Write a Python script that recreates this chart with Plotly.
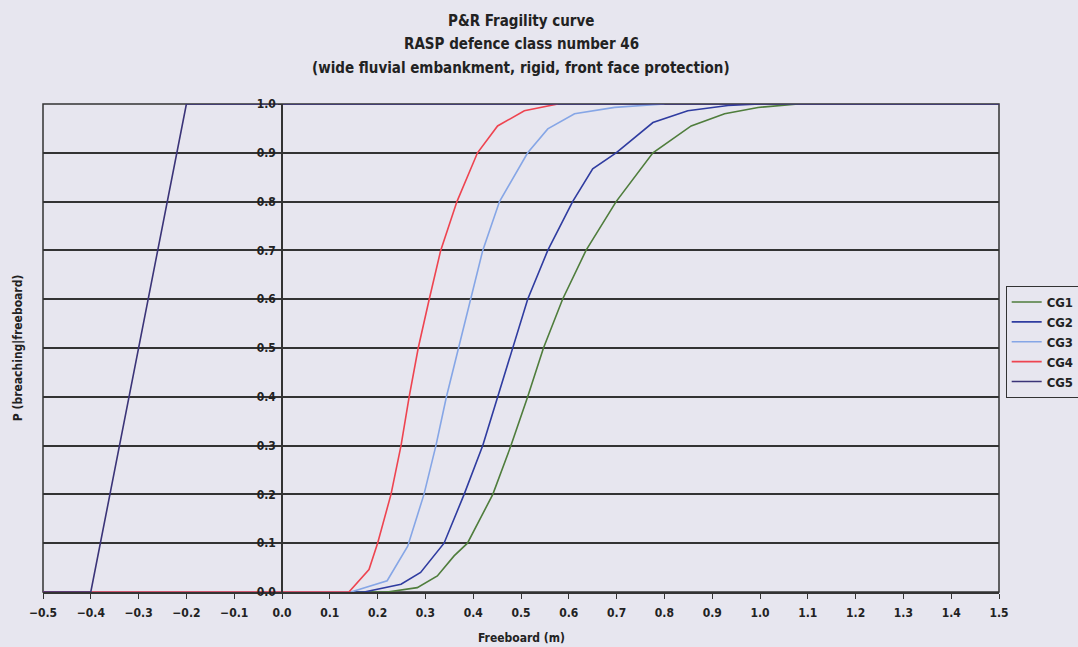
import plotly.graph_objects as go

# ---- data ----
series_names = ["CG1", "CG2", "CG3", "CG4", "CG5"]
series_colors = ["#4F7D3C", "#2F3CA0", "#86A6E6", "#EE4450", "#3B3478"]

cg1_x = [-0.5, 0.22, 0.283, 0.325, 0.36, 0.388, 0.441, 0.479, 0.514, 0.547, 0.587, 0.636, 0.699, 0.776, 0.856, 0.926, 0.996, 1.08]
cg1_y = [0.0, 0.0, 0.009, 0.033, 0.074, 0.10, 0.20, 0.30, 0.40, 0.50, 0.60, 0.70, 0.80, 0.90, 0.955, 0.980, 0.993, 1.0]

cg2_x = [-0.5, 0.172, 0.249, 0.29, 0.339, 0.381, 0.42, 0.451, 0.483, 0.514, 0.556, 0.608, 0.650, 0.699, 0.776, 0.849, 0.933, 1.0]
cg2_y = [0.0, 0.0, 0.016, 0.04, 0.10, 0.20, 0.30, 0.40, 0.50, 0.60, 0.70, 0.80, 0.867, 0.90, 0.962, 0.986, 0.997, 1.0]

cg3_x = [-0.5, 0.144, 0.22, 0.263, 0.297, 0.322, 0.344, 0.369, 0.394, 0.420, 0.455, 0.514, 0.556, 0.612, 0.696, 0.80]
cg3_y = [0.0, 0.0, 0.023, 0.094, 0.20, 0.30, 0.40, 0.50, 0.60, 0.70, 0.80, 0.90, 0.949, 0.980, 0.993, 1.0]

cg4_x = [-0.5, 0.14, 0.182, 0.2, 0.228, 0.249, 0.266, 0.285, 0.308, 0.332, 0.366, 0.409, 0.451, 0.507, 0.577]
cg4_y = [0.0, 0.0, 0.046, 0.10, 0.20, 0.30, 0.40, 0.50, 0.60, 0.70, 0.80, 0.90, 0.955, 0.986, 1.0]

cg5_x = [-0.5, -0.4, -0.2, 1.5]
cg5_y = [0.0, 0.0, 1.0, 1.0]

title_lines = ["P&R Fragility curve", "RASP defence class number 46",
               "(wide fluvial embankment, rigid, front face protection)"]
x_title = "Freeboard (m)"
y_title = "P (breaching|freeboard)"

FONT = "DejaVu Sans Condensed, Liberation Sans Narrow, Arial Narrow, sans-serif"
BG = "#E7E6EF"
INK = "#222222"
LINE = "#333333"

xs = [cg1_x, cg2_x, cg3_x, cg4_x, cg5_x]
ys = [cg1_y, cg2_y, cg3_y, cg4_y, cg5_y]

fig = go.Figure()
for name, color, x, y in zip(series_names, series_colors, xs, ys):
    fig.add_trace(go.Scatter(x=x, y=y, mode="lines", name=name,
                             line=dict(color=color, width=1.6)))

tickfont = dict(family=FONT, size=12, color=INK, weight="bold")

fig.update_layout(
    width=1078, height=647,
    margin=dict(l=43, r=79, t=104, b=55, autoexpand=False),
    paper_bgcolor=BG, plot_bgcolor=BG,
    font=dict(family=FONT, color=INK, size=11),
    showlegend=True,
    legend=dict(x=1.007, y=0.627, xanchor="left", yanchor="top",
                bgcolor=BG, bordercolor=LINE, borderwidth=1,
                font=dict(family=FONT, size=13, color=INK, weight="bold"),
                itemwidth=30, tracegroupgap=0),
    xaxis=dict(range=[-0.5, 1.5], dtick=0.1, tick0=-0.5, tickformat=".1f",
               showgrid=False, zeroline=False, showline=True, linecolor=LINE,
               linewidth=1.5, ticks="outside", ticklen=5, tickcolor=LINE,
               ticklabelstandoff=4, tickfont=tickfont),
    yaxis=dict(range=[0, 1], dtick=0.1, tickformat=".1f", anchor="free", position=0.25,
               showgrid=True, gridcolor=LINE, gridwidth=1.8, zeroline=False,
               showline=True, linecolor=LINE, linewidth=1.5,
               ticks="outside", ticklen=3, tickcolor=LINE, tickfont=tickfont),
    shapes=[dict(type="rect", xref="paper", yref="paper", x0=0, x1=1, y0=0, y1=1,
                 line=dict(color=LINE, width=1.5), layer="below")],
)

title_y = [1.170, 1.122, 1.073]
for txt, yy in zip(title_lines, title_y):
    fig.add_annotation(text="<b>" + txt + "</b>", xref="paper", yref="paper",
                       x=0.5, y=yy, showarrow=False, xanchor="center", yanchor="middle",
                       font=dict(family=FONT, size=15, color=INK))

fig.add_annotation(text="<b>" + x_title + "</b>", xref="paper", yref="paper",
                   x=0.5, y=-0.094, showarrow=False, xanchor="center", yanchor="middle",
                   font=dict(family=FONT, size=12, color=INK))
fig.add_annotation(text="<b>" + y_title + "</b>", xref="paper", yref="paper",
                   x=-0.026, y=0.5, showarrow=False, textangle=-90,
                   xanchor="center", yanchor="middle",
                   font=dict(family=FONT, size=12, color=INK))

fig.write_html("out.html")
